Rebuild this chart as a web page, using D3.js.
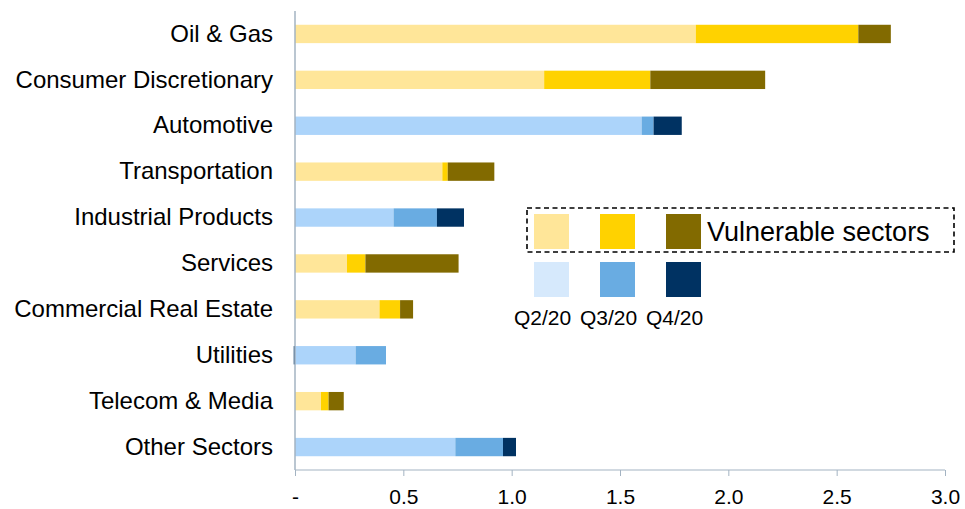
<!DOCTYPE html>
<html>
<head>
<meta charset="utf-8">
<script src="https://cdn.jsdelivr.net/npm/d3@7"></script>
<style>
  html, body { margin: 0; padding: 0; background: #fff; }
  svg { display: block; font-family: "Liberation Sans", Arial, sans-serif; }
</style>
</head>
<body>
<svg id="chart" width="965" height="509"></svg>
<script>
"use strict";

/* sectors, top to bottom */
const SECTORS = [
  "Oil & Gas", "Consumer Discretionary", "Automotive", "Transportation",
  "Industrial Products", "Services", "Commercial Real Estate", "Utilities",
  "Telecom & Media", "Other Sectors"
];
const VULNERABLE = [true, true, false, true, false, true, true, false, true, false];
const QUARTERS = ["Q2/20", "Q3/20", "Q4/20"];
const Q2 = [1.85, 1.15, 1.60, 0.68, 0.455, 0.24, 0.39, 0.28, 0.12, 0.74];
const Q3 = [0.75, 0.49, 0.055, 0.025, 0.20, 0.085, 0.095, 0.14, 0.035, 0.22];
const Q4 = [0.15, 0.53, 0.13, 0.215, 0.125, 0.43, 0.06, -0.006, 0.07, 0.06];
const X_TICKS = [0, 0.5, 1.0, 1.5, 2.0, 2.5, 3.0];

const WARM = ["#ffe699", "#ffd200", "#826a00"];
const COOL = ["#acd4fa", "#69ace2", "#003262"];
const COOL_KEY = ["#d6e9fc", "#69ace2", "#003262"];

const svg = d3.select("#chart");
const margin = { top: 11, right: 20, bottom: 39, left: 295 };
const width = 965 - margin.left - margin.right;
const height = 509 - margin.top - margin.bottom;

const rows = SECTORS.map((s, i) => ({ sector: s, vulnerable: VULNERABLE[i], q0: Q2[i], q1: Q3[i], q2: Q4[i] }));
const stack = d3.stack().keys(["q0", "q1", "q2"]).offset(d3.stackOffsetDiverging)(rows);

const x = d3.scaleLinear([0, 3], [0, width]);
const y = d3.scaleBand(SECTORS, [0, height]).paddingInner(0.6).paddingOuter(0.3);

const g = svg.append("g").attr("transform", `translate(${margin.left},${margin.top})`);

/* bars */
stack.forEach((layer, k) => {
  g.append("g")
    .selectAll("rect")
    .data(layer)
    .join("rect")
    .attr("x", (d) => x(Math.min(d[0], d[1])))
    .attr("width", (d) => Math.abs(x(d[1]) - x(d[0])))
    .attr("y", (d) => y(d.data.sector))
    .attr("height", y.bandwidth())
    .attr("fill", (d) => (d.data.vulnerable ? WARM[k] : COOL[k]));
});

/* axes */
const axisColor = "#a3b3c2";
const xAxis = g.append("g")
  .attr("transform", `translate(0,${height})`)
  .call(d3.axisBottom(x).tickValues(X_TICKS).tickSize(6).tickPadding(13)
    .tickFormat((d) => (d === 0 ? "-" : d3.format(".1f")(d))));
xAxis.select(".domain").attr("stroke", axisColor).attr("d", `M0,0H${width}`);
xAxis.selectAll(".tick line").attr("stroke", axisColor);
xAxis.selectAll(".tick text").attr("fill", "#000").style("font-size", "21px");

const yAxis = g.append("g")
  .call(d3.axisLeft(y).tickSize(0).tickPadding(22));
yAxis.select(".domain").attr("stroke", axisColor).attr("stroke-width", 1.5).attr("d", `M0,0V${height}`);
yAxis.selectAll(".tick text").attr("fill", "#000").style("font-size", "24px");

/* legend */
const legend = svg.append("g").attr("transform", "translate(527,208)");
legend.append("rect")
  .attr("x", 0).attr("y", 0).attr("width", 427).attr("height", 44)
  .attr("fill", "none").attr("stroke", "#000").attr("stroke-width", 1.6)
  .attr("stroke-dasharray", "5,3.5");
const keyX = [7, 73, 139];
legend.selectAll("rect.warm")
  .data(WARM).join("rect").attr("class", "warm")
  .attr("x", (d, i) => keyX[i]).attr("y", 6).attr("width", 35).attr("height", 35)
  .attr("fill", (d) => d);
legend.append("text")
  .attr("x", 180).attr("y", 33)
  .style("font-size", "27px").text("Vulnerable sectors");
legend.selectAll("rect.cool")
  .data(COOL_KEY).join("rect").attr("class", "cool")
  .attr("x", (d, i) => keyX[i]).attr("y", 54).attr("width", 35).attr("height", 35)
  .attr("fill", (d) => d);
legend.selectAll("text.q")
  .data(QUARTERS).join("text").attr("class", "q")
  .attr("x", (d, i) => keyX[i] + 8.5).attr("y", 117)
  .attr("text-anchor", "middle").style("font-size", "21px")
  .text((d) => d);
</script>
</body>
</html>
